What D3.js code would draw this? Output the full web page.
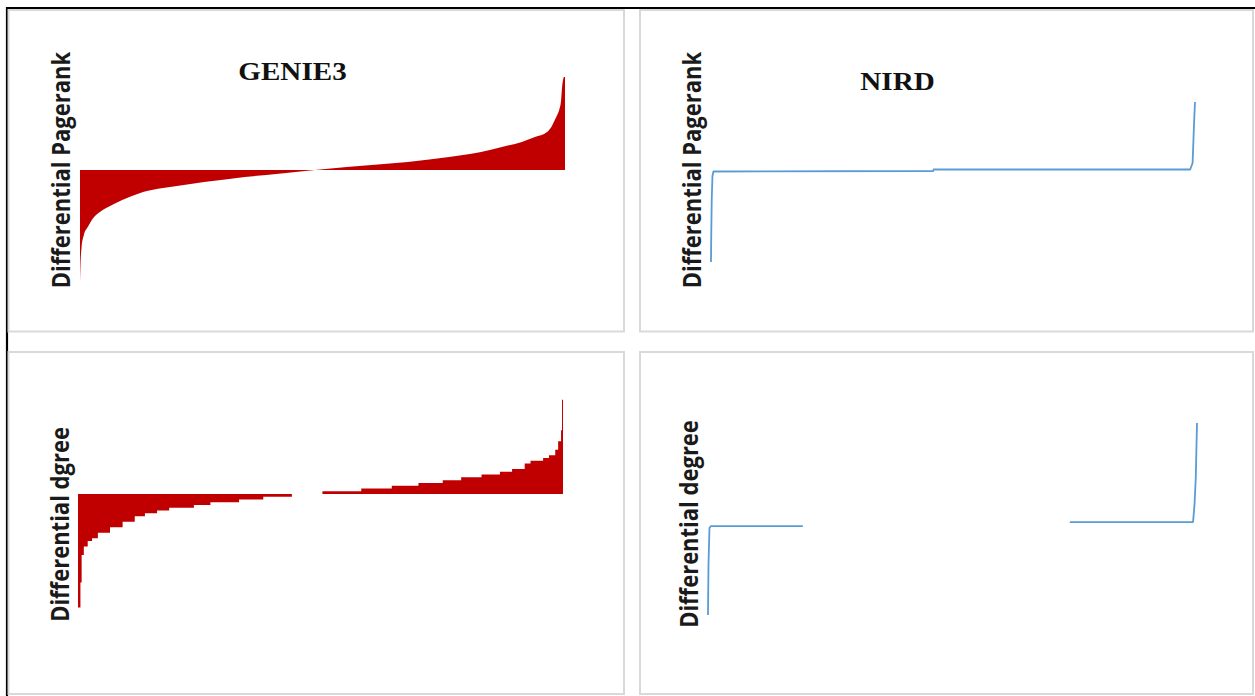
<!DOCTYPE html>
<html>
<head>
<meta charset="utf-8">
<script src="https://cdn.jsdelivr.net/npm/d3@7/dist/d3.min.js"></script>
<style>
    body { margin: 0; background: #fff; }
    svg { display: block; }
</style>
</head>
<body>
<div id="chart"></div>
<script>
// titles and axis labels
var methods = ["GENIE3", "NIRD"];
var yLabels = ["Differential Pagerank", "Differential Pagerank", "Differential dgree", "Differential degree"];

// genes sorted by differential value, position = rank percentile
var geniePrRank = [0, 0.1, 0.33, 0.8, 1.6, 2.9, 4.1, 5.4, 7.0, 8.7, 10.7, 13, 17.1, 21.4, 25.6, 29.9, 34, 38.4, 42.5, 45.4,
    47.4, 49.5, 55, 61.4, 67.6, 72, 76.1, 80.4, 84.5, 87.8, 91.1, 93.8, 96.3, 97.3, 97.9, 98.4, 98.8, 99.2, 99.4, 99.6, 99.8, 100];
var geniePrValue = [-11.2, -9.5, -7.7, -6.5, -5.7, -4.7, -4.2, -3.8, -3.4, -3.0, -2.6, -2.2, -1.8, -1.5, -1.2, -0.95, -0.7, -0.5, -0.3, -0.15,
    -0.05, 0.05, 0.3, 0.55, 0.8, 1.05, 1.3, 1.6, 2.0, 2.4, 2.8, 3.3, 3.8, 4.4, 5.0, 5.5, 6.0, 7.0, 8.3, 9.0, 9.3, 9.3];

var genieDegRank = [0, 0.5, 0.75, 1.2, 2.0, 2.9, 4.1, 6.6, 9.2, 11.7, 13.8, 16.3, 18.8, 23.9, 27.3, 33.2, 38.2, 44.1,
    50.4, 58.4, 64.7, 70.2, 75.2, 79.0, 83.2, 87.0, 89.5, 92.1, 93.3, 95.9, 97.1, 98.4, 99.0, 99.6, 99.8, 100];
var genieDegValue = [-41, -32, -22, -19, -17, -16, -14, -12, -10, -8, -7, -6, -5, -4, -3, -2, -1, 0,
    1, 2, 3, 4, 5, 6, 7, 8, 9, 11, 12, 13, 14, 16, 19, 23, 34, 34];

var nirdPrRank = [0, 0.05, 0.15, 0.3, 0.5, 45.9, 46.0, 99.0, 99.5, 99.7, 99.85, 100];
var nirdPrValue = [-9.2, -6.5, -3.0, -0.6, -0.15, -0.1, 0.05, 0.05, 0.7, 3.3, 5.2, 6.8];

// zero values are left empty (gap in the line)
var nirdDegRank = [0, 0.1, 0.3, 0.6, 19.4, 19.5, 73.9, 74.0, 99.2, 99.5, 99.75, 100];
var nirdDegValue = [-45, -20, -2, -1, -1, null, null, 1, 1, 10, 23, 50];

var width = 1255, height = 696;
var red = "#c00000", blue = "#5b9bd5";

function zip(rank, value) {
    return rank.map(function (r, i) {
        return { p: r, v: value[i] };
    });
}

var panels = [
    { box: [8.5, 10, 615.5, 321.5], x: [80, 565], yDom: [-12, 10], y: [290, 70], kind: "area", curve: d3.curveMonotoneX,
      data: zip(geniePrRank, geniePrValue), title: methods[0], titleAt: [292.5, 80], label: yLabels[0], labelAt: [69.5, 170] },
    { box: [640, 10, 613, 321.5], x: [711, 1195], yDom: [-12, 10], y: [290, 70], kind: "line",
      data: zip(nirdPrRank, nirdPrValue), title: methods[1], titleAt: [897.5, 90], label: yLabels[1], labelAt: [701, 170] },
    { box: [8.5, 352, 615.5, 342], x: [78, 563], yDom: [-45, 40], y: [618.6, 383.2], kind: "area", curve: d3.curveStepAfter,
      data: zip(genieDegRank, genieDegValue), label: yLabels[2], labelAt: [69, 524.5] },
    { box: [640, 352, 613, 342], x: [708, 1197], yDom: [-45, 50], y: [615, 423], kind: "line",
      data: zip(nirdDegRank, nirdDegValue), label: yLabels[3], labelAt: [698, 524] }
];

var svg = d3.select("#chart")
    .append("svg")
    .attr("width", width)
    .attr("height", height);

svg.append("rect")
    .attr("width", width)
    .attr("height", height)
    .attr("fill", "#fff");

// black frame (top and left edges are visible)
svg.append("line")
    .attr("x1", 6).attr("x2", width)
    .attr("y1", 8).attr("y2", 8)
    .attr("stroke", "#000").attr("stroke-width", 2.2);
svg.append("line")
    .attr("x1", 7).attr("x2", 7)
    .attr("y1", 7).attr("y2", height)
    .attr("stroke", "#000").attr("stroke-width", 2.2);

function drawPanel(p) {
    var g = svg.append("g");

    g.append("rect")
        .attr("x", p.box[0]).attr("y", p.box[1])
        .attr("width", p.box[2]).attr("height", p.box[3])
        .attr("fill", "#fff")
        .attr("stroke", "#d9d9d9")
        .attr("stroke-width", 2);

    var x = d3.scaleLinear().domain([0, 100]).range(p.x);
    var y = d3.scaleLinear().domain(p.yDom).range(p.y);

    if (p.kind === "area") {
        var area = d3.area()
            .x(function (d) { return x(d.p); })
            .y0(y(0))
            .y1(function (d) { return y(d.v); })
            .curve(p.curve);
        g.append("path")
            .datum(p.data)
            .attr("d", area)
            .attr("fill", red);
    } else {
        var line = d3.line()
            .defined(function (d) { return d.v !== null; })
            .x(function (d) { return x(d.p); })
            .y(function (d) { return y(d.v); });
        g.append("path")
            .datum(p.data)
            .attr("d", line)
            .attr("fill", "none")
            .attr("stroke", blue)
            .attr("stroke-width", 1.8)
            .attr("stroke-linejoin", "round");
    }

    if (p.title) {
        g.append("text")
            .attr("transform", "translate(" + p.titleAt[0] + "," + p.titleAt[1] + ") scale(1.12,1)")
            .attr("text-anchor", "middle")
            .attr("font-family", "'Liberation Serif', 'Times New Roman', serif")
            .attr("font-weight", "bold")
            .attr("font-size", 26)
            .attr("fill", "#111")
            .text(p.title);
    }

    g.append("text")
        .attr("transform", "translate(" + p.labelAt[0] + "," + p.labelAt[1] + ") scale(1.17,1) rotate(-90)")
        .attr("text-anchor", "middle")
        .attr("font-family", "'Open Sans', sans-serif")
        .attr("font-weight", "bold")
        .attr("font-size", 22)
        .attr("fill", "#1a1a1a")
        .text(p.label);
}

panels.forEach(drawPanel);
</script>
</body>
</html>
